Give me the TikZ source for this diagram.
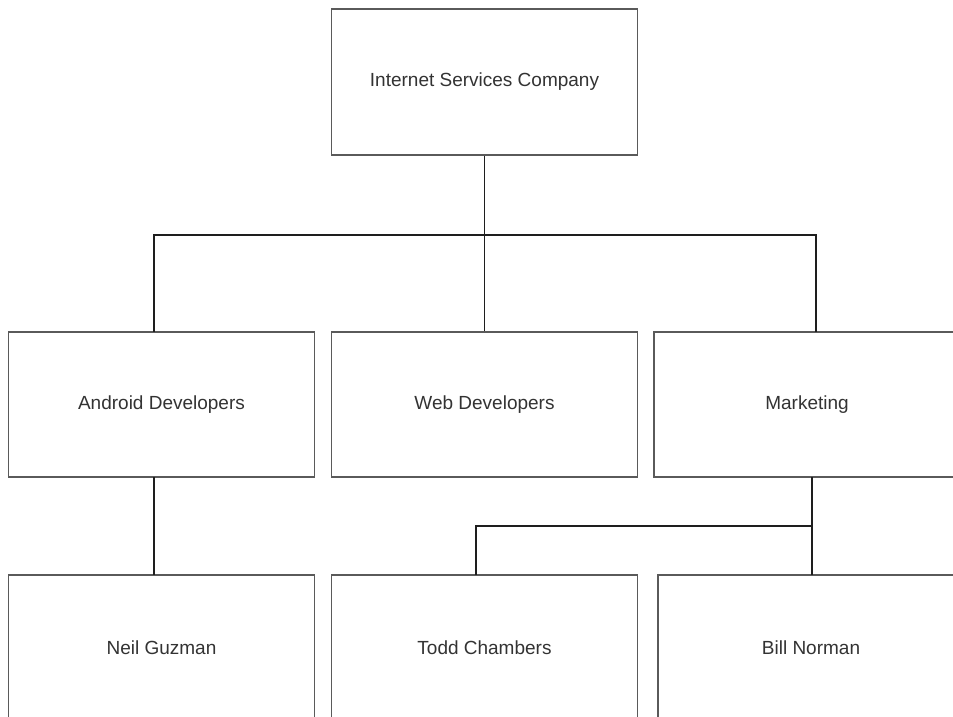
\documentclass[tikz,border=0pt]{standalone}
\usepackage{fontspec}
\setmainfont{Liberation Sans}
\definecolor{boxline}{RGB}{90,90,90}
\definecolor{conline}{RGB}{30,30,30}
\definecolor{txt}{RGB}{51,51,51}
\begin{document}
\begin{tikzpicture}[x=1pt,y=-1pt,
  orgbox/.style={draw=boxline,line width=1.8pt,fill=white,minimum width=306pt,minimum height=145pt,inner sep=0pt,text=txt,font=\fontsize{19}{22}\selectfont},
  conn/.style={draw=conline,line width=1.4pt}]
\useasboundingbox (0,0) rectangle (953,717);
\clip (0,0) rectangle (953,717);
\node[orgbox,minimum height=146pt] (top) at (484.5,82) {Internet Services Company};
\node[orgbox] (and) at (161.5,404.5) {Android Developers};
\node[orgbox] (web) at (484.5,404.5) {Web Developers};
\node[orgbox] (mkt) at (807,404.5) {Marketing};
\node[orgbox] (neil) at (161.5,647.5) {Neil Guzman};
\node[orgbox] (todd) at (484.5,647.5) {Todd Chambers};
\node[orgbox] (bill) at (811,647.5) {Bill Norman};
\coordinate (j1) at (484.5,235);
\coordinate (andin) at (154,332);
\coordinate (mktin) at (816,332);
\coordinate (mktout) at (812,477);
\coordinate (j2) at (812,526);
\coordinate (toddin) at (476,575);
\coordinate (billin) at (812,575);
\coordinate (andout) at (154,477);
\coordinate (neilin) at (154,575);
\draw[conn] (top.south) -- (j1) -| (andin);
\draw[conn] (j1) -| (mktin);
\draw[conn] (j1) -- (web.north);
\draw[conn] (andout) -- (neilin);
\draw[conn] (mktout) -- (j2) -| (toddin);
\draw[conn] (j2) -- (billin);
\end{tikzpicture}
\end{document}
